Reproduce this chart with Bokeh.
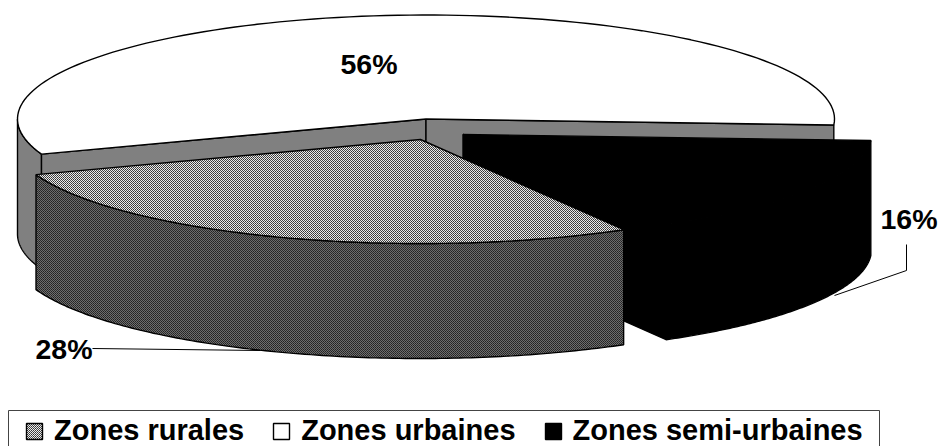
import numpy as np
from bokeh.core.properties import value
from bokeh.embed import file_html
from bokeh.models import Legend, LegendItem, Range1d
from bokeh.plotting import figure
from bokeh.resources import INLINE

# ---- data
categories = ["Zones rurales", "Zones urbaines", "Zones semi-urbaines"]
shares = [27.8, 56.4, 15.8]
pct_labels = ["28%", "56%", "16%"]

# ---- projection of the tilted pie (page pixels)
CX, CY, RX, RY, DEPTH = 425.5, 118.5, 408.5, 104.0, 115.0
START = -3.3            # degrees at which the urbaines slice begins
FONT = "Liberation Sans"
GREY = "#808080"
RURAL_SIDE = "#6e6e6e"

angle = dict(zip(categories, shares))
u0 = START
u1 = u0 + angle[categories[1]] * 3.6
r1 = u1 + angle[categories[0]] * 3.6
s1 = r1 + angle[categories[2]] * 3.6


def arc(a0, a1, cx, cy, n=120):
    t = np.radians(np.linspace(a0, a1, n))
    return cx + RX * np.cos(t), cy - RY * np.sin(t)


p = figure(width=938, height=446, x_range=Range1d(0, 938), y_range=Range1d(446, 0),
           output_backend="svg", toolbar_location=None, min_border=0,
           outline_line_color=None, background_fill_color="white", border_fill_color="white")
p.axis.visible = False
p.grid.visible = False

edge = dict(line_color="black", line_width=1.4)

# ---- back body: urbaines
x, y = arc(180, u1, CX, CY)
xb, yb = arc(u1, 180, CX, CY + DEPTH)
p.patch(np.r_[x, xb], np.r_[y, yb], fill_color=GREY, **edge)
xa, ya = arc(u1, u1, CX, CY, n=1)
p.patch([CX, xa[0], xa[0], CX], [CY, ya[0], ya[0] + DEPTH, CY + DEPTH], fill_color=GREY, **edge)
xc, yc = arc(u0, u0, CX, CY, n=1)
p.patch([CX, xc[0], xc[0], CX], [CY, yc[0], yc[0] + DEPTH, CY + DEPTH], fill_color=GREY, **edge)
x, y = arc(u0, u1, CX, CY)
urban = p.patch(np.r_[CX, x], np.r_[CY, y], fill_color="white", **edge)

# ---- semi-urbaines, pulled out
SX, SY = 462.5, 134.0
x, y = arc(r1, s1, SX, SY)
xb, yb = arc(s1, r1, SX, SY + DEPTH)
p.patch(np.r_[x, xb], np.r_[y, yb], fill_color="black", **edge)
xd, yd = arc(r1, r1, SX, SY, n=1)
p.patch([SX, xd[0], xd[0], SX], [SY, yd[0], yd[0] + DEPTH, SY + DEPTH], fill_color="black", **edge)
semi = p.patch(np.r_[SX, x], np.r_[SY, y], fill_color="black", **edge)

# ---- rurales, pulled out
RCX, RCY = 420.0, 139.0
x, y = arc(u1, r1, RCX, RCY)
xb, yb = arc(r1, u1, RCX, RCY + DEPTH)
p.patch(np.r_[x, xb], np.r_[y, yb], fill_color=RURAL_SIDE, hatch_pattern="diagonal_cross",
        hatch_scale=2, hatch_weight=1, hatch_color="#222222", **edge)
rural = p.patch(np.r_[RCX, x], np.r_[RCY, y], fill_color="#ececec", hatch_pattern="diagonal_cross",
                hatch_scale=2, hatch_weight=1, hatch_color="#333333", **edge)

# ---- leaders and value labels
p.line([92, 260], [348, 350], line_color="black", line_width=1)
p.line([906, 906, 834], [244, 270, 295], line_color="black", line_width=1)
p.text([35, 340, 880], [348, 63, 218], text=[pct_labels[0], pct_labels[1], pct_labels[2]],
       text_font=value(FONT), text_font_style="bold", text_font_size="28.5px",
       text_color="black", text_align="left", text_baseline="middle")

# ---- legend frame and legend
p.quad(left=[8], right=[879], top=[410], bottom=[452], fill_color=None,
       line_color="#444444", line_width=1)
legend = Legend(items=[LegendItem(label=categories[0], renderers=[rural]),
                       LegendItem(label=categories[1], renderers=[urban]),
                       LegendItem(label=categories[2], renderers=[semi])],
                orientation="horizontal", location=(24, -1), glyph_width=20, glyph_height=20,
                label_standoff=10, spacing=27, padding=0, margin=0,
                label_text_font=FONT, label_text_font_style="bold", label_text_font_size="29px",
                label_text_color="black", label_height=20,
                border_line_color=None, background_fill_alpha=0)
p.add_layout(legend, "center")

open("out.html", "w").write(file_html(p, INLINE))
